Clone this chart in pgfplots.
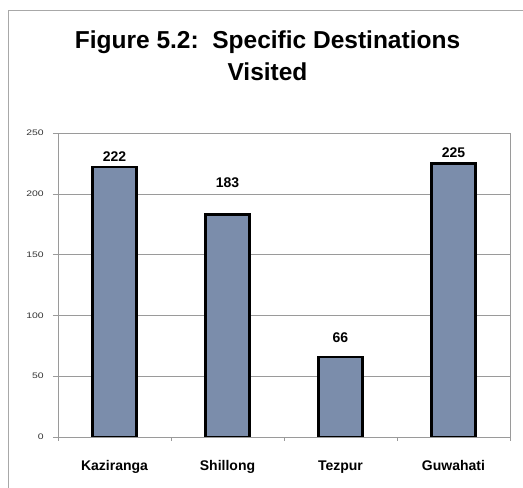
\documentclass[border=0pt]{standalone}
\usepackage{pgfplots}
\pgfplotsset{compat=1.18}
\usepackage{pgfplotstable}
\usepackage{fontspec}
\setmainfont{Liberation Sans}
\definecolor{barfill}{HTML}{7B8DAB}
\definecolor{framegray}{HTML}{A8A8A8}
\definecolor{gridgray}{HTML}{9A9A9A}

% visitors per destination; off = lift of the value label above the bar top (pt)
\pgfplotstableread{
x   y   off
0.5 222 10
1.5 183 31.5
2.5 66  18.7
3.5 225 10.4
}\visits

\begin{document}
\begin{tikzpicture}[x=1pt,y=1pt]
\useasboundingbox (0,0) rectangle (523,488);
% chart frame
\draw[framegray, line width=0.8pt] (8,0) -- (8,478) -- (523,478);
% title
\node[font=\fontsize{24.5}{28}\bfseries\selectfont] at (267.5,446) {Figure 5.2:\ \ Specific Destinations};
\node[font=\fontsize{24.5}{28}\bfseries\selectfont] at (267.5,416) {Visited};
\begin{axis}[
  at={(58pt,51pt)}, anchor=south west,
  scale only axis, width=452pt, height=304pt,
  xmin=0, xmax=4, ymin=0, ymax=250,
  ytick={0,50,...,250},
  xtick={0.5,1.5,2.5,3.5},
  xticklabels={Kaziranga,Shillong,Tezpur,Guwahati},
  minor xtick={0,1,2,3,4},
  tick align=outside, tick pos=left,
  major tick length=5pt, minor tick length=4pt,
  major x tick style={draw=none},
  minor x tick style={gridgray, line width=0.6pt},
  major y tick style={gridgray, line width=0.6pt},
  ymajorgrids,
  major grid style={gridgray, line width=0.5pt},
  axis line style={gridgray, line width=0.7pt},
  /pgf/number format/assume math mode=true,
  yticklabel style={font=\fontsize{8}{9}\selectfont, text=black!80, xscale=1.3, anchor=east, inner sep=0pt, xshift=-7pt},
  xticklabel style={font=\fontsize{14}{16}\bfseries\selectfont, anchor=base, inner sep=0pt, yshift=-28pt},
  ybar, bar width=0.39, bar shift=0pt,
  nodes near coords,
  visualization depends on={\thisrow{off}\as\off},
  nodes near coords style={font=\fontsize{14}{16}\bfseries\selectfont, anchor=center, yshift=\off pt, text=black},
]
\addplot[fill=barfill, draw=black, line width=2.2pt] table[x=x, y=y] {\visits};
\end{axis}
\end{tikzpicture}
\end{document}
